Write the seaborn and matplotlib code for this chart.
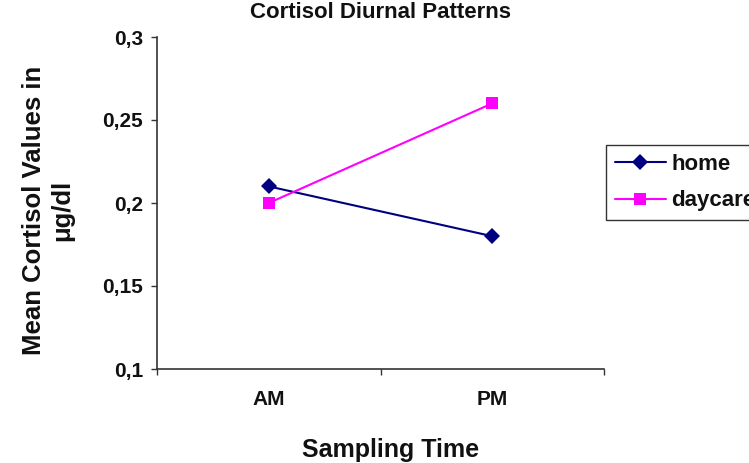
import matplotlib
matplotlib.use('Agg')
import matplotlib.pyplot as plt
import seaborn as sns
import pandas as pd

# data
times = ['AM', 'PM']
home = [0.21, 0.18]
daycare = [0.20, 0.26]
y_ticks = [0.1, 0.15, 0.2, 0.25, 0.3]
y_tick_labels = ['0,1', '0,15', '0,2', '0,25', '0,3']

sns.set_style('white')
plt.rcParams['font.family'] = ['Liberation Sans', 'DejaVu Sans']
plt.rcParams['font.weight'] = 'bold'
plt.rcParams['text.color'] = '#111111'
plt.rcParams['xtick.color'] = '#111111'
plt.rcParams['ytick.color'] = '#111111'

df = pd.DataFrame({
    'pos': [0, 1, 0, 1],
    'value': home + daycare,
    'group': ['home'] * 2 + ['daycare'] * 2,
})

W, H = 749, 463
fig = plt.figure(figsize=(W / 100, H / 100), dpi=100)
ax = fig.add_axes([157 / W, 1 - 369 / H, (604 - 157) / W, (369 - 37) / H])

sns.lineplot(data=df, x='pos', y='value', hue='group', style='group',
             palette={'home': '#000080', 'daycare': '#FF00FF'},
             markers={'home': 'D', 'daycare': 's'}, dashes=False,
             markersize=8, linewidth=1.5, markeredgewidth=0, ax=ax)

ax.set_xlim(-0.5, 1.5)
ax.set_ylim(0.1, 0.3)
ax.set_yticks(y_ticks)
ax.set_yticklabels(y_tick_labels, fontsize=15, fontweight='bold')

# category boundaries as major ticks, labels at category centres
ax.set_xticks([-0.5, 0.5, 1.5])
ax.set_xticklabels(['', '', ''])
ax.set_xticks([0, 1], minor=True)
ax.set_xticklabels(times, minor=True, fontsize=15, fontweight='bold')
ax.tick_params(axis='x', which='minor', length=0, pad=15)
ax.tick_params(axis='both', which='major', direction='out', length=4,
               width=1, color='#333333', left=True, bottom=True, pad=6)

for side in ['top', 'right']:
    ax.spines[side].set_visible(False)
for side in ['left', 'bottom']:
    ax.spines[side].set_color('#333333')
    ax.spines[side].set_linewidth(1.2)

ax.set_xlabel('')
ax.set_ylabel('')
fig.text(381 / W, 1 - 18 / H, 'Cortisol Diurnal Patterns', fontsize=16,
         fontweight='bold', ha='center', va='baseline')
fig.text(391 / W, 1 - 457 / H, 'Sampling Time', fontsize=18,
         fontweight='bold', ha='center', va='baseline')
fig.text(48 / W, 1 - 210 / H, 'Mean Cortisol Values in\nμg/dl', fontsize=18.5,
         fontweight='bold', ha='center', va='center', rotation=90,
         multialignment='center', linespacing=1.2)

handles, labels = ax.get_legend_handles_labels()
leg = fig.legend(handles, labels, loc='upper left', bbox_to_anchor=(606 / W, 1 - 145 / H),
                 borderaxespad=0, frameon=True, fancybox=False, edgecolor='black',
                 prop={'size': 16, 'weight': 'bold'}, handlelength=2.3,
                 borderpad=0.4, labelspacing=0.7, handletextpad=0.25)
leg.get_frame().set_linewidth(1.0)
ax.get_legend().remove()

fig.savefig('out.png', dpi=100)
